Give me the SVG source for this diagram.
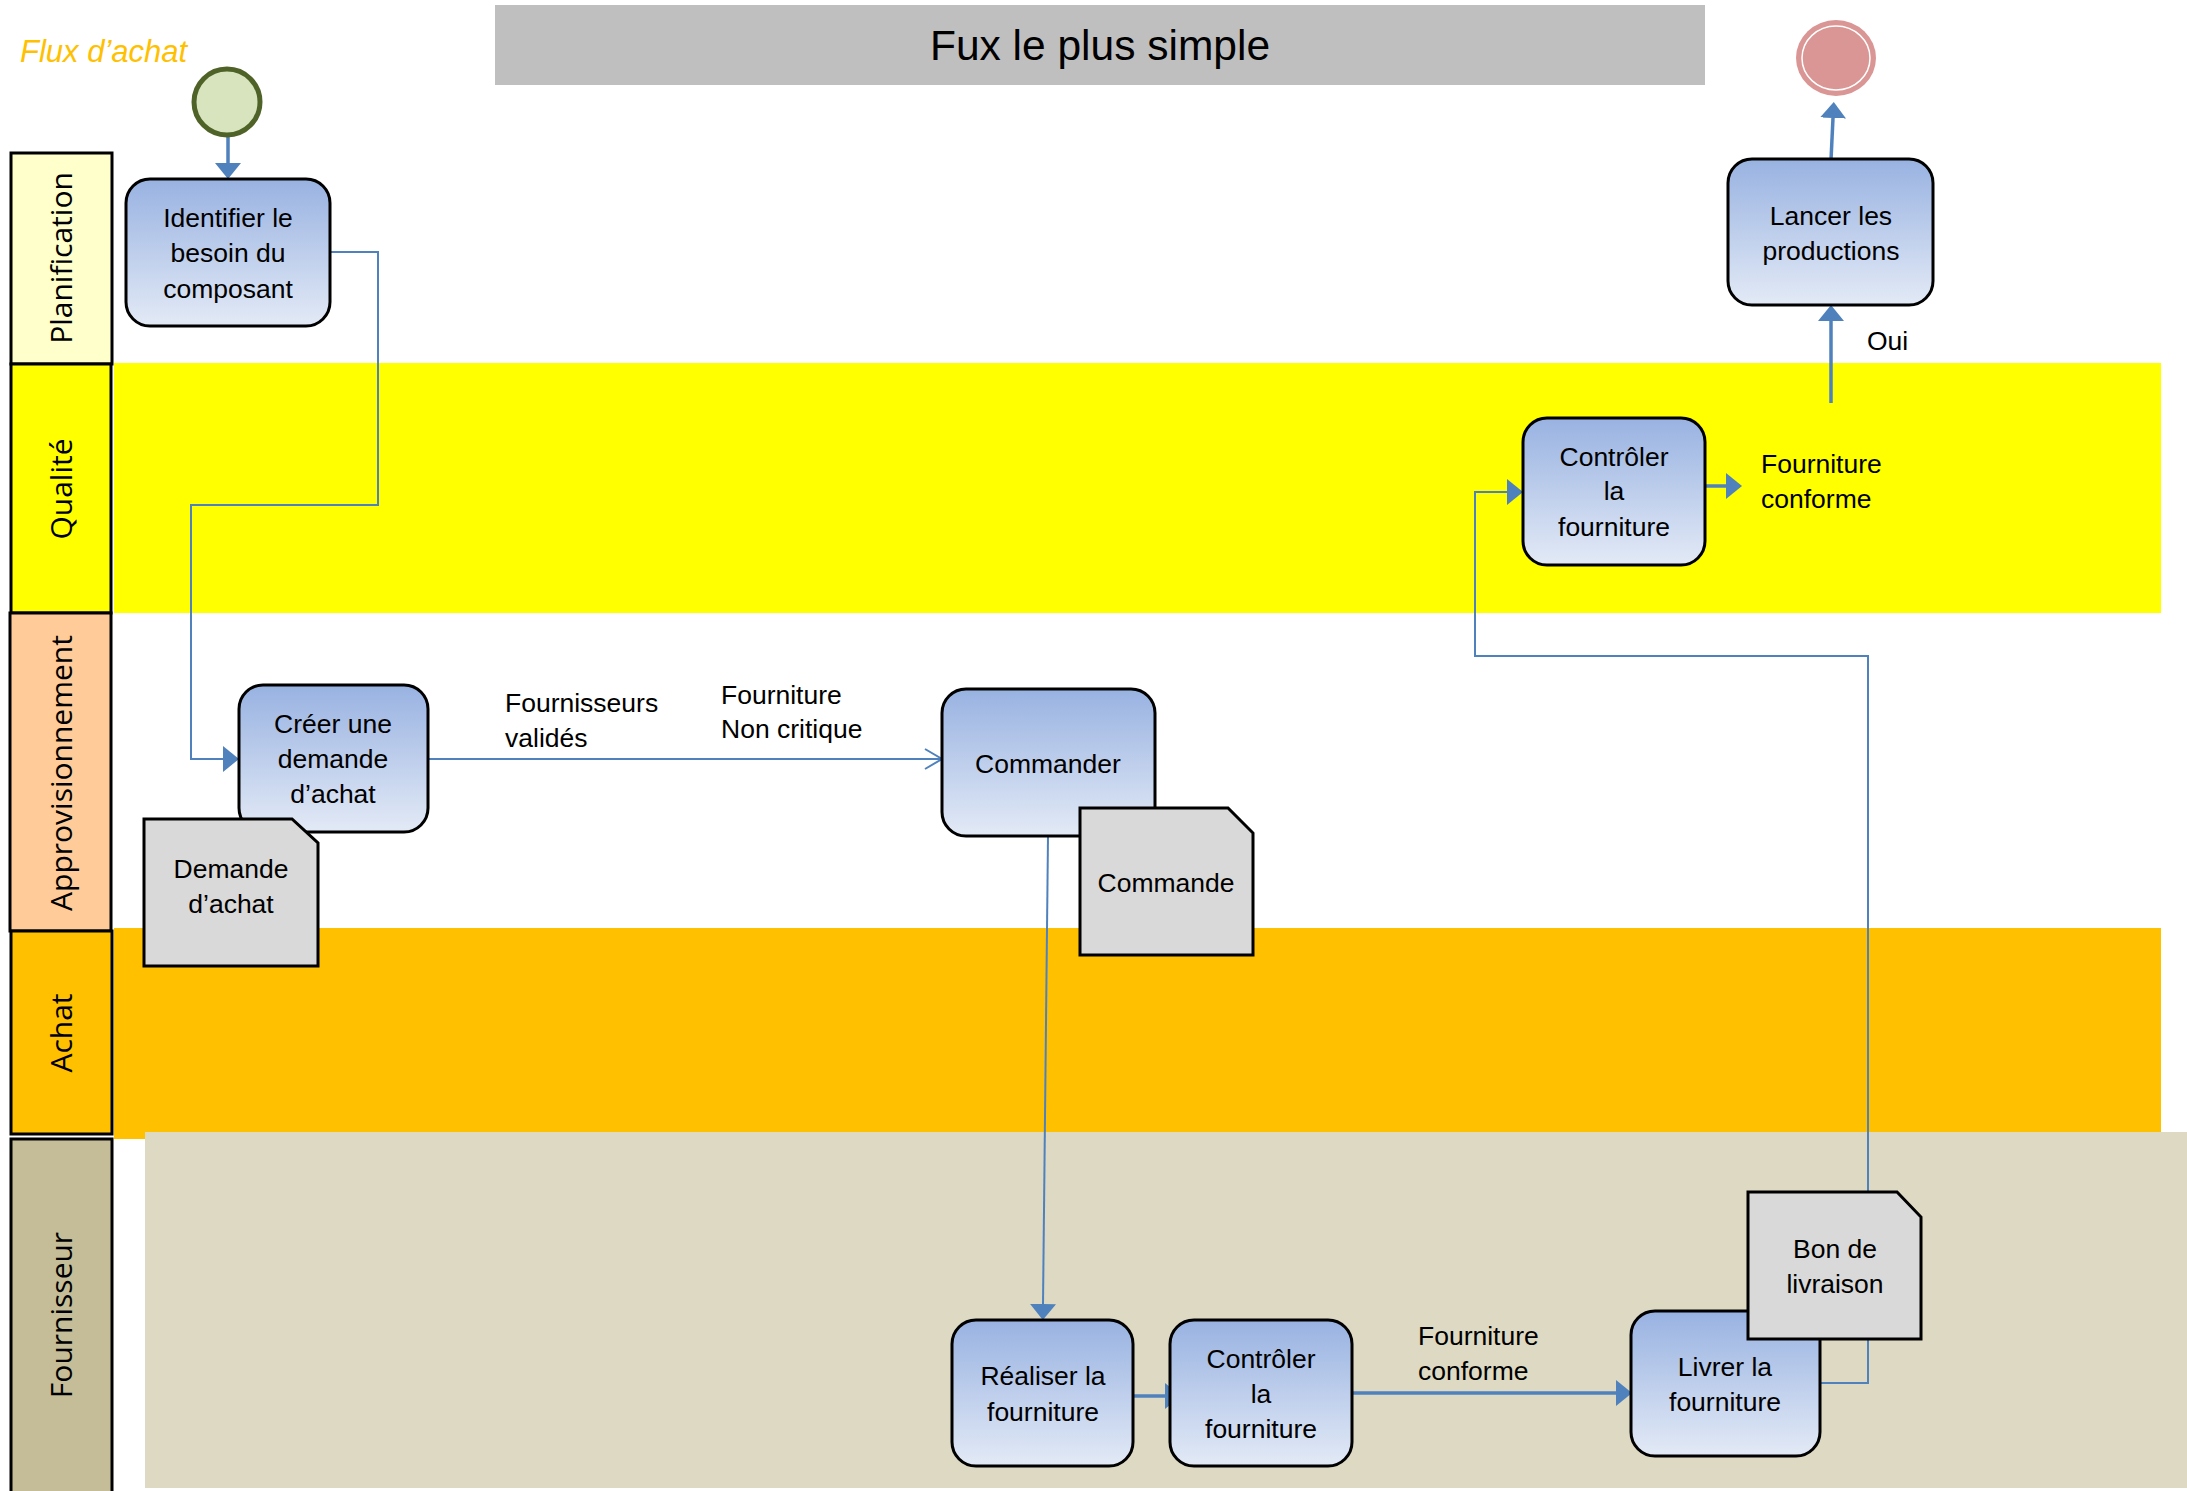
<svg xmlns="http://www.w3.org/2000/svg" width="2187" height="1491" viewBox="0 0 2187 1491">
<style>
.lane{stroke:#000;stroke-width:3}
.lt{font-family:"Open Sans","DejaVu Sans",sans-serif;font-size:30px;fill:#000;text-anchor:middle}
.task{fill:url(#taskGrad);stroke:#000;stroke-width:3}
.doc{fill:#D9D9D9;stroke:#000;stroke-width:3}
.nt{font-family:"Liberation Sans",Arial,sans-serif;font-size:26.5px;fill:#000;text-anchor:middle}
.lbl{font-family:"Liberation Sans",Arial,sans-serif;font-size:26.5px;fill:#000}
.c{fill:none;stroke:#4F81BD;stroke-width:2}
.ct{fill:none;stroke:#4F81BD;stroke-width:3.5}
</style>
<defs>
<linearGradient id="taskGrad" x1="0" y1="0" x2="0" y2="1">
<stop offset="0" stop-color="#98B2E1"/>
<stop offset="1" stop-color="#E3EAF6"/>
</linearGradient>
<marker id="tri" markerUnits="userSpaceOnUse" markerWidth="16" markerHeight="26" viewBox="0 0 16 26" refX="0" refY="13" orient="auto">
<path d="M0,0 L16,13 L0,26 z" fill="#4F81BD"/>
</marker>
<marker id="open" markerUnits="userSpaceOnUse" markerWidth="20" markerHeight="24" viewBox="0 0 20 24" refX="18" refY="12" orient="auto">
<path d="M1,2 L18,12 L1,22" fill="none" stroke="#4F81BD" stroke-width="2"/>
</marker>
</defs>

<g id="lanes">
<rect x="114" y="363" width="2047" height="250" fill="#FFFF00"/>
<rect x="114" y="928" width="2047" height="211" fill="#FFC000"/>
<rect x="145" y="1132" width="2042" height="356" fill="#DDD9C3"/>
<g id="lane-planification"><rect class="lane" x="11" y="153" width="101" height="211" fill="#FFFFCC"/><text class="lt" transform="translate(72,258) rotate(-90)">Planification</text></g>
<g id="lane-qualite"><rect class="lane" x="11" y="364" width="100" height="249" fill="#FFFF00"/><text class="lt" transform="translate(72,489) rotate(-90)">Qualité</text></g>
<g id="lane-appro"><rect class="lane" x="10" y="613" width="101" height="318" fill="#FFCC99"/><text class="lt" transform="translate(72,773) rotate(-90)">Approvisionnement</text></g>
<g id="lane-achat"><rect class="lane" x="11" y="931" width="101" height="203" fill="#FFC000"/><text class="lt" transform="translate(72,1033) rotate(-90)">Achat</text></g>
<g id="lane-fournisseur"><rect class="lane" x="11" y="1139" width="101" height="360" fill="#C4BD97"/><text class="lt" transform="translate(72,1315) rotate(-90)">Fournisseur</text></g>
</g>

<g id="header">
<text x="20" y="62" font-family="Liberation Sans,Arial,sans-serif" font-style="italic" font-size="31" fill="#FFC000">Flux d’achat</text>
<rect x="495" y="5" width="1210" height="80" fill="#BFBFBF"/>
<text x="1100" y="60" font-family="Liberation Sans,Arial,sans-serif" font-size="42.5" fill="#000" text-anchor="middle">Fux le plus simple</text>
</g>

<g id="connectors">
<line class="ct" x1="228" y1="137" x2="228" y2="163" marker-end="url(#tri)"/>
<polyline class="c" points="330,252 378,252 378,505 191,505 191,759 223,759" marker-end="url(#tri)"/>
<line class="c" x1="428" y1="759" x2="942" y2="759" marker-end="url(#open)"/>
<line class="c" x1="1048" y1="836" x2="1043" y2="1304" marker-end="url(#tri)"/>
<line class="ct" x1="1130" y1="1396" x2="1165" y2="1396" marker-end="url(#tri)"/>
<line class="ct" x1="1344" y1="1393" x2="1616" y2="1393" marker-end="url(#tri)"/>
<polyline class="c" points="1820,1383 1868,1383 1868,656 1475,656 1475,492 1507,492" marker-end="url(#tri)"/>
<line class="ct" x1="1705" y1="486" x2="1726" y2="486" marker-end="url(#tri)"/>
<line class="ct" x1="1831" y1="403" x2="1831" y2="321" marker-end="url(#tri)"/>
<line class="ct" x1="1831" y1="160" x2="1833" y2="118" marker-end="url(#tri)"/>
<text class="lbl" x="505" y="712">Fournisseurs</text>
<text class="lbl" x="505" y="747">validés</text>
<text class="lbl" x="721" y="704">Fourniture</text>
<text class="lbl" x="721" y="738">Non critique</text>
<text class="lbl" x="1761" y="473">Fourniture</text>
<text class="lbl" x="1761" y="508">conforme</text>
<text class="lbl" x="1867" y="350">Oui</text>
<text class="lbl" x="1418" y="1345">Fourniture</text>
<text class="lbl" x="1418" y="1380">conforme</text>
</g>

<g id="start"><circle cx="227" cy="102" r="33" fill="#D7E4BD" stroke="#4F6228" stroke-width="5"/></g>
<g id="end"><ellipse cx="1836" cy="58" rx="40" ry="38" fill="#D99694"/><ellipse cx="1836" cy="58" rx="34" ry="32" fill="none" stroke="#fff" stroke-width="1.5"/></g>

<g id="identifier"><rect class="task" x="126" y="179" width="204" height="147" rx="24"/><text class="nt" x="228" y="227">Identifier le</text><text class="nt" x="228" y="262">besoin du</text><text class="nt" x="228" y="298">composant</text></g>
<g id="creer"><rect class="task" x="239" y="685" width="189" height="147" rx="24"/><text class="nt" x="333" y="733">Créer une</text><text class="nt" x="333" y="768">demande</text><text class="nt" x="333" y="803">d’achat</text></g>
<g id="demande"><polygon class="doc" points="144,819 292,819 318,843 318,966 144,966"/><text class="nt" x="231" y="878">Demande</text><text class="nt" x="231" y="913">d’achat</text></g>
<g id="commander"><rect class="task" x="942" y="689" width="213" height="147" rx="24"/><text class="nt" x="1048" y="773">Commander</text></g>
<g id="commande"><polygon class="doc" points="1080,808 1228,808 1253,833 1253,955 1080,955"/><text class="nt" x="1166" y="892">Commande</text></g>
<g id="realiser"><rect class="task" x="952" y="1320" width="181" height="146" rx="24"/><text class="nt" x="1043" y="1385">Réaliser la</text><text class="nt" x="1043" y="1421">fourniture</text></g>
<g id="controler-f"><rect class="task" x="1170" y="1320" width="182" height="146" rx="24"/><text class="nt" x="1261" y="1368">Contrôler</text><text class="nt" x="1261" y="1403">la</text><text class="nt" x="1261" y="1438">fourniture</text></g>
<g id="livrer"><rect class="task" x="1631" y="1311" width="189" height="145" rx="24"/><text class="nt" x="1725" y="1376">Livrer la</text><text class="nt" x="1725" y="1411">fourniture</text></g>
<g id="bon"><polygon class="doc" points="1748,1192 1897,1192 1921,1217 1921,1339 1748,1339"/><text class="nt" x="1835" y="1258">Bon de</text><text class="nt" x="1835" y="1293">livraison</text></g>
<g id="controler-q"><rect class="task" x="1523" y="418" width="182" height="147" rx="24"/><text class="nt" x="1614" y="466">Contrôler</text><text class="nt" x="1614" y="500">la</text><text class="nt" x="1614" y="536">fourniture</text></g>
<g id="lancer"><rect class="task" x="1728" y="159" width="205" height="146" rx="24"/><text class="nt" x="1831" y="225">Lancer les</text><text class="nt" x="1831" y="260">productions</text></g>
</svg>
